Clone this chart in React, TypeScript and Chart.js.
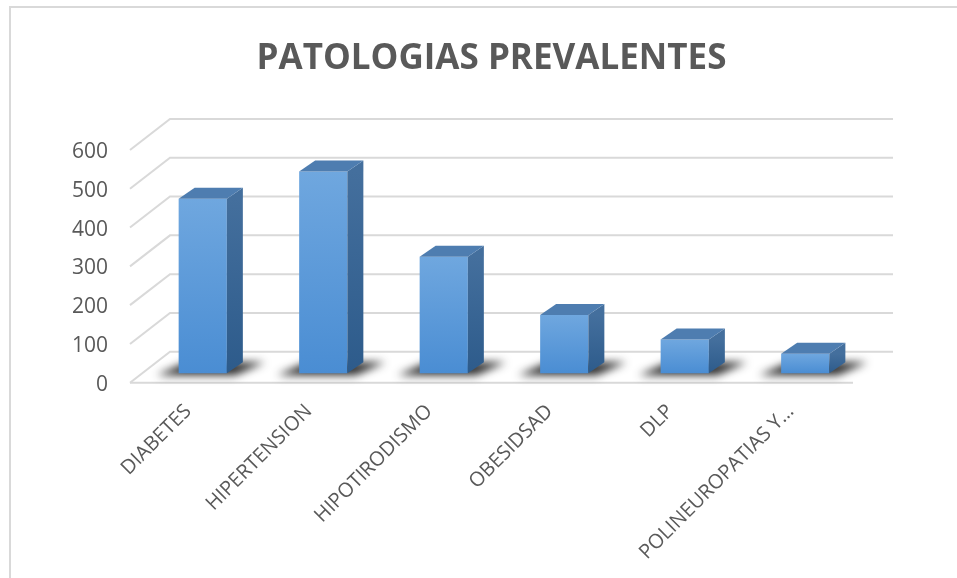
import React, { useEffect, useRef } from "react";
import { Chart, registerables } from "chart.js";

Chart.register(...registerables);

const chartTitle = "PATOLOGIAS PREVALENTES";
const categories = ["DIABETES", "HIPERTENSION", "HIPOTIRODISMO", "OBESIDSAD", "DLP", "POLINEUROPATIAS Y…"];
const values = [450, 520, 300, 150, 87, 50];
const yMin = 0;
const yMax = 600;
const yStep = 100;

const WALL_DX = 40;
const WALL_DY = -31;
const BAR_OX = 12.5;
const BAR_OY = -9.5;
const BAR_DX = 16;
const BAR_DY = -11;
const GRID = "#d9d9d9";
const TEXT = "#595959";

const frame3d = {
  id: "frame3d",
  beforeDraw(chart: any) {
    const ctx = chart.ctx;
    ctx.save();
    ctx.fillStyle = "#ffffff";
    ctx.fillRect(0, 0, chart.width, chart.height);
    ctx.strokeStyle = GRID;
    ctx.lineWidth = 2;
    ctx.beginPath();
    ctx.moveTo(10, chart.height + 2);
    ctx.lineTo(10, 7);
    ctx.lineTo(chart.width + 2, 7);
    ctx.stroke();
    ctx.restore();
  },
  beforeDatasetsDraw(chart: any) {
    const { ctx, chartArea: a, scales } = chart;
    const ys = scales.y;
    ctx.save();
    ctx.strokeStyle = GRID;
    ctx.lineWidth = 2;
    ys.ticks.forEach((t: any) => {
      const y = ys.getPixelForValue(t.value);
      ctx.beginPath();
      ctx.moveTo(a.left, y);
      ctx.lineTo(a.left + WALL_DX, y + WALL_DY);
      ctx.lineTo(a.right + WALL_DX, y + WALL_DY);
      ctx.stroke();
    });
    const y0 = ys.getPixelForValue(0);
    ctx.beginPath();
    ctx.moveTo(a.left, y0);
    ctx.lineTo(a.right, y0);
    ctx.stroke();

    const meta = chart.getDatasetMeta(0);
    ctx.filter = "blur(4px)";
    ctx.fillStyle = "rgba(25,25,25,0.92)";
    meta.data.forEach((bar: any) => {
      const { x, width, base } = bar.getProps(["x", "width", "base"], true);
      const x0 = x - width / 2 + BAR_OX;
      const x1 = x + width / 2 + BAR_OX;
      const b = base + BAR_OY;
      ctx.beginPath();
      ctx.moveTo(x0 - 22, b + 2);
      ctx.lineTo(x1 + 8, b + 2);
      ctx.lineTo(x1 + BAR_DX + 22, b + BAR_DY);
      ctx.lineTo(x0 + BAR_DX - 8, b + BAR_DY);
      ctx.closePath();
      ctx.fill();
    });
    ctx.restore();
    ctx.save();
    ctx.translate(BAR_OX, BAR_OY);
  },
  afterDatasetsDraw(chart: any) {
    const ctx = chart.ctx;
    const meta = chart.getDatasetMeta(0);
    meta.data.forEach((bar: any) => {
      const { x, y, width, base } = bar.getProps(["x", "y", "width", "base"], true);
      const x0 = x - width / 2;
      const x1 = x + width / 2;
      const g = ctx.createLinearGradient(0, y, 0, base);
      g.addColorStop(0, "#446f9d");
      g.addColorStop(1, "#2d5b8b");
      ctx.fillStyle = g;
      ctx.beginPath();
      ctx.moveTo(x1, y);
      ctx.lineTo(x1 + BAR_DX, y + BAR_DY);
      ctx.lineTo(x1 + BAR_DX, base + BAR_DY);
      ctx.lineTo(x1, base);
      ctx.closePath();
      ctx.fill();
      ctx.fillStyle = "#4e7db0";
      ctx.beginPath();
      ctx.moveTo(x0, y);
      ctx.lineTo(x1, y);
      ctx.lineTo(x1 + BAR_DX, y + BAR_DY);
      ctx.lineTo(x0 + BAR_DX, y + BAR_DY);
      ctx.closePath();
      ctx.fill();
    });
    ctx.restore();
  },
};

export default function App() {
  const ref = useRef<HTMLCanvasElement | null>(null);
  useEffect(() => {
    if (!ref.current) return;
    const chart = new Chart(ref.current, {
      type: "bar",
      data: {
        labels: categories,
        datasets: [
          {
            data: values,
            clip: false as any,
            categoryPercentage: 1,
            barPercentage: 0.4,
            backgroundColor: (c: any) => {
              const ch = c.chart;
              if (!ch.chartArea || c.type !== "data") return "#5b9bd5";
              const ys = ch.scales.y;
              const top = ys.getPixelForValue(c.raw);
              const bot = ys.getPixelForValue(0);
              const g = ch.ctx.createLinearGradient(0, top, 0, bot);
              g.addColorStop(0, "#6fa7df");
              g.addColorStop(1, "#4a8dd3");
              return g;
            },
          },
        ],
      },
      options: {
        animation: false,
        responsive: false,
        layout: { padding: { left: 0, right: 104, top: 0, bottom: 0 } },
        plugins: {
          legend: { display: false },
          tooltip: { enabled: false },
          title: {
            display: true,
            fullSize: false,
            text: chartTitle,
            color: TEXT,
            font: { family: "'Open Sans'", size: 35, weight: "bold" },
            padding: { top: 37.7, bottom: 70.3 },
          },
        },
        scales: {
          x: {
            grid: { display: false, drawTicks: false },
            border: { display: false },
            ticks: {
              color: TEXT,
              font: { family: "'Open Sans'", size: 20 },
              minRotation: 45,
              maxRotation: 45,
              autoSkip: false,
              padding: 17,
              labelOffset: -2,
            },
            afterFit: (s: any) => {
              s.height = 195.3;
            },
          },
          y: {
            min: yMin,
            max: yMax,
            grid: { display: false, drawTicks: false },
            border: { display: false },
            ticks: {
              stepSize: yStep,
              color: TEXT,
              font: { family: "'Open Sans'", size: 21 },
              padding: 22,
              labelOffset: 2,
            },
            afterFit: (s: any) => {
              s.width = 130;
            },
          },
        },
      },
      plugins: [frame3d],
    });
    return () => chart.destroy();
  }, []);
  return (
    <div style={{ position: "fixed", left: 0, top: 0, width: 957, height: 578 }}>
      <canvas ref={ref} width={957} height={578} style={{ width: 957, height: 578 }} />
    </div>
  );
}
